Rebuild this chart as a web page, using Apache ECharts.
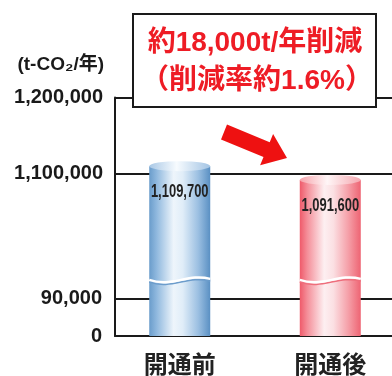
<!DOCTYPE html>
<html><head><meta charset="utf-8">
<script src="https://cdn.jsdelivr.net/npm/echarts@6/dist/echarts.min.js"></script>
<style>html,body{margin:0;padding:0;background:#fff}#c{width:392px;height:376px}</style>
</head><body><div id="c"></div>
<script>
const categories = ['開通前', '開通後'];
const values = [1109700, 1091600];
const upperTicks = [1100000, 1200000];
const lowerTicks = [0, 90000];
const unitLabel = '(t-CO₂/年)';
const noteLines = ['約18,000t/年削減', '（削減率約1.6%）'];

const fmt = v => v.toLocaleString('en-US');
const grad = stops => ({type:'linear', x:0, y:0, x2:1, y2:0,
  colorStops: stops.map(s => ({offset:s[0], color:s[1]}))});
const bodyStops = [
  [[0,'#6a9ccb'],[0.12,'#8fb8de'],[0.4,'#eef5fb'],[0.55,'#e0edf8'],[0.8,'#9cc0e2'],[1,'#5a90c3']],
  [[0,'#ef5a6a'],[0.12,'#f48d98'],[0.4,'#fdeff1'],[0.55,'#fbe0e3'],[0.8,'#f59ea7'],[1,'#ee6473']]
];
const capStops = [
  [[0,'#a9c8e6'],[0.45,'#f7fbfe'],[1,'#a3c4e4']],
  [[0,'#f6a3ab'],[0.45,'#fff6f7'],[1,'#f5a8b0']]
];
const edgeColors = ['#6c9ccb', '#ee6e7c'];
const BAR_W = 61;
const FONT = "'Liberation Sans', 'Noto Sans CJK JP', sans-serif";

const barData = values.map((v, i) => ({value: [i, v], itemStyle: {color: grad(bodyStops[i])}}));
const pts = values.map((v, i) => [i, v]);

const chart = echarts.init(document.getElementById('c'), null, {renderer: 'canvas'});
const yCommon = {
  type: 'value', position: 'left',
  axisLine: {show: true, onZero: false, lineStyle: {color: '#1a1a1a', width: 2}},
  splitLine: {show: true, lineStyle: {color: '#1a1a1a', width: 2}},
};
chart.setOption({
  animation: false,
  backgroundColor: '#fff',
  grid: [
    {left: 115, right: 0, top: 97.5, height: 182.4},
    {left: 115, right: 0, top: 279.9, height: 61.8}
  ],
  xAxis: [
    {gridIndex: 0, type: 'value', min: -0.43, max: 1.41, show: false},
    {gridIndex: 1, type: 'value', min: -0.43, max: 1.41,
      axisLine: {show: true, onZero: false, lineStyle: {color: '#1a1a1a', width: 2}},
      axisTick: {show: false, customValues: [0, 1]},
      splitLine: {show: false},
      axisLabel: {customValues: [0, 1], formatter: v => categories[Math.round(v)] || '',
        fontSize: 24, fontWeight: 'bold', color: '#222', margin: 16,
        fontFamily: "'Noto Sans CJK JP', sans-serif"}}
  ],
  yAxis: [
    Object.assign({}, yCommon, {gridIndex: 0, min: 960000, max: 1200000,
      axisTick: {show: false, customValues: upperTicks},
      axisLabel: {customValues: upperTicks, formatter: v => fmt(v), fontSize: 20,
        fontWeight: 'bold', color: '#1a1a1a', margin: 12, fontFamily: FONT}}),
    Object.assign({}, yCommon, {gridIndex: 1, min: 0, max: 136000,
      axisTick: {show: false, customValues: lowerTicks},
      axisLabel: {customValues: lowerTicks, formatter: v => fmt(v), fontSize: 20,
        fontWeight: 'bold', color: '#1a1a1a', margin: 13, fontFamily: FONT}})
  ],
  series: [
    {type: 'bar', xAxisIndex: 0, yAxisIndex: 0, barWidth: BAR_W, data: barData, clip: true},
    {type: 'bar', xAxisIndex: 1, yAxisIndex: 1, barWidth: BAR_W, data: barData, clip: true},
    {type: 'custom', xAxisIndex: 0, yAxisIndex: 0, data: pts, z: 5,
      renderItem: (params, api) => {
        const i = api.value(0);
        const v = api.value(1);
        const p = api.coord([i, v]);
        return {type: 'group', children: [
          {type: 'circle', x: p[0], y: p[1], scaleY: 10 / BAR_W,
            shape: {cx: 0, cy: 0, r: BAR_W / 2},
            style: {fill: grad(capStops[i]), stroke: null}},
          {type: 'text', x: p[0], y: p[1] + 26, scaleX: 0.72,
            style: {text: fmt(v), fontSize: 18, fontWeight: 'bold', fill: '#222',
              align: 'center', verticalAlign: 'middle', fontFamily: FONT}}
        ]};
      }},
    {type: 'custom', xAxisIndex: 1, yAxisIndex: 1, data: pts, z: 5, clip: false,
      renderItem: (params, api) => {
        const i = api.value(0);
        const p = api.coord([i, 0]);
        const y = params.coordSys.y;
        const x0 = p[0] - BAR_W / 2, x1 = p[0] + BAR_W / 2;
        const curve = (dy, color, w) => ({type: 'bezierCurve',
          shape: {x1: x0, y1: y + dy, cpx1: p[0] - 8, cpy1: y + 8 + dy, cpx2: p[0] + 8, cpy2: y - 7 + dy, x2: x1, y2: y - 1 + dy},
          style: {stroke: color, lineWidth: w, fill: null}});
        return {type: 'group', children: [curve(2.2, edgeColors[i], 1.5), curve(0, '#ffffff', 2.5)]};
      }}
  ],
  graphic: [
    {type: 'text', x: 104, y: 65, z: 10,
      style: {text: unitLabel, fontSize: 19, fontWeight: 'bold', fill: '#1a1a1a',
        align: 'right', verticalAlign: 'middle', fontFamily: FONT}},
    {type: 'rect', z: 10, shape: {x: 133, y: 14, width: 243, height: 93},
      style: {fill: '#fff', stroke: '#1a1a1a', lineWidth: 2}},
    {type: 'text', z: 11, x: 255, y: 43,
      style: {text: noteLines[0], fontSize: 28, fontWeight: 'bold', fill: '#ee1c25',
        align: 'center', verticalAlign: 'middle', fontFamily: FONT}},
    {type: 'text', z: 11, x: 257, y: 81,
      style: {text: noteLines[1], fontSize: 28, fontWeight: 'bold', fill: '#ee1c25',
        align: 'center', verticalAlign: 'middle', fontFamily: FONT}},
    {type: 'polygon', z: 10,
      shape: {points: [[227,124.6],[269.7,142.2],[273.1,133.9],[287,158],[260.1,165.3],[263.5,157],[221,139.4]]},
      style: {fill: '#ee1111'}}
  ]
});
</script></body></html>
